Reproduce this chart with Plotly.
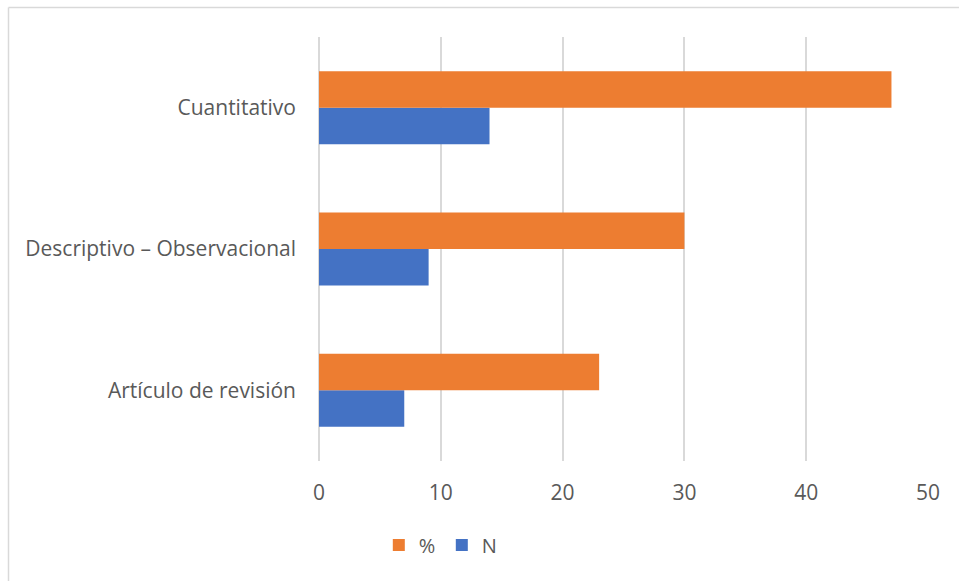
import plotly.graph_objects as go

# Study designs and their counts / percentages
categories = ["Artículo de revisión", "Descriptivo – Observacional", "Cuantitativo"]
pct_values = [23, 30, 47]
n_values = [7, 9, 14]
x_ticks = [0, 10, 20, 30, 40, 50]

ORANGE = "#ED7D31"
BLUE = "#4472C4"
GRID = "#D9D9D9"
TEXT = "#595959"
FONT = "Open Sans"

W, H = 959, 581
L, R, T, B = 319, 31, 37, 120

fig = go.Figure()
fig.add_trace(go.Bar(y=categories, x=n_values, name="N", orientation="h",
                     marker=dict(color=BLUE, line=dict(width=0)), legendrank=2))
fig.add_trace(go.Bar(y=categories, x=pct_values, name="%", orientation="h",
                     marker=dict(color=ORANGE, line=dict(width=0)), legendrank=1))

pw = W - L - R
ph = H - T - B
# outer chart border (left and top edges visible)
bx = (8.5 - L) / pw
by = (H - B - 7.5) / ph
fig.add_shape(type="line", xref="paper", yref="paper", x0=bx, x1=(W - L) / pw + 0.01,
              y0=by, y1=by, line=dict(color=GRID, width=1.5))
fig.add_shape(type="line", xref="paper", yref="paper", x0=bx, x1=bx,
              y0=-(B + 2) / ph, y1=by, line=dict(color=GRID, width=1.5))

fig.update_layout(
    width=W, height=H,
    margin=dict(l=L, r=R, t=T, b=B),
    paper_bgcolor="white", plot_bgcolor="white",
    barmode="group", bargap=0.483, bargroupgap=0,
    font=dict(family=FONT, size=21, color=TEXT),
    showlegend=True,
    legend=dict(orientation="h", xref="container", yref="container",
                x=0.395, xanchor="left", y=0.062, yanchor="middle",
                font=dict(family=FONT, size=20, color=TEXT),
                itemwidth=30, entrywidth=18, traceorder="normal"),
    xaxis=dict(range=[0, 50], tickvals=x_ticks, showgrid=True, gridcolor=GRID,
               gridwidth=1.5, zeroline=True, zerolinecolor=GRID, zerolinewidth=1.5,
               showline=False, ticks="", ticklabelstandoff=17, fixedrange=True),
    yaxis=dict(categoryorder="array", categoryarray=categories, showgrid=False,
               showline=False, zeroline=False, ticks="", ticklabelstandoff=22,
               fixedrange=True),
)

fig.write_html("out.html")
